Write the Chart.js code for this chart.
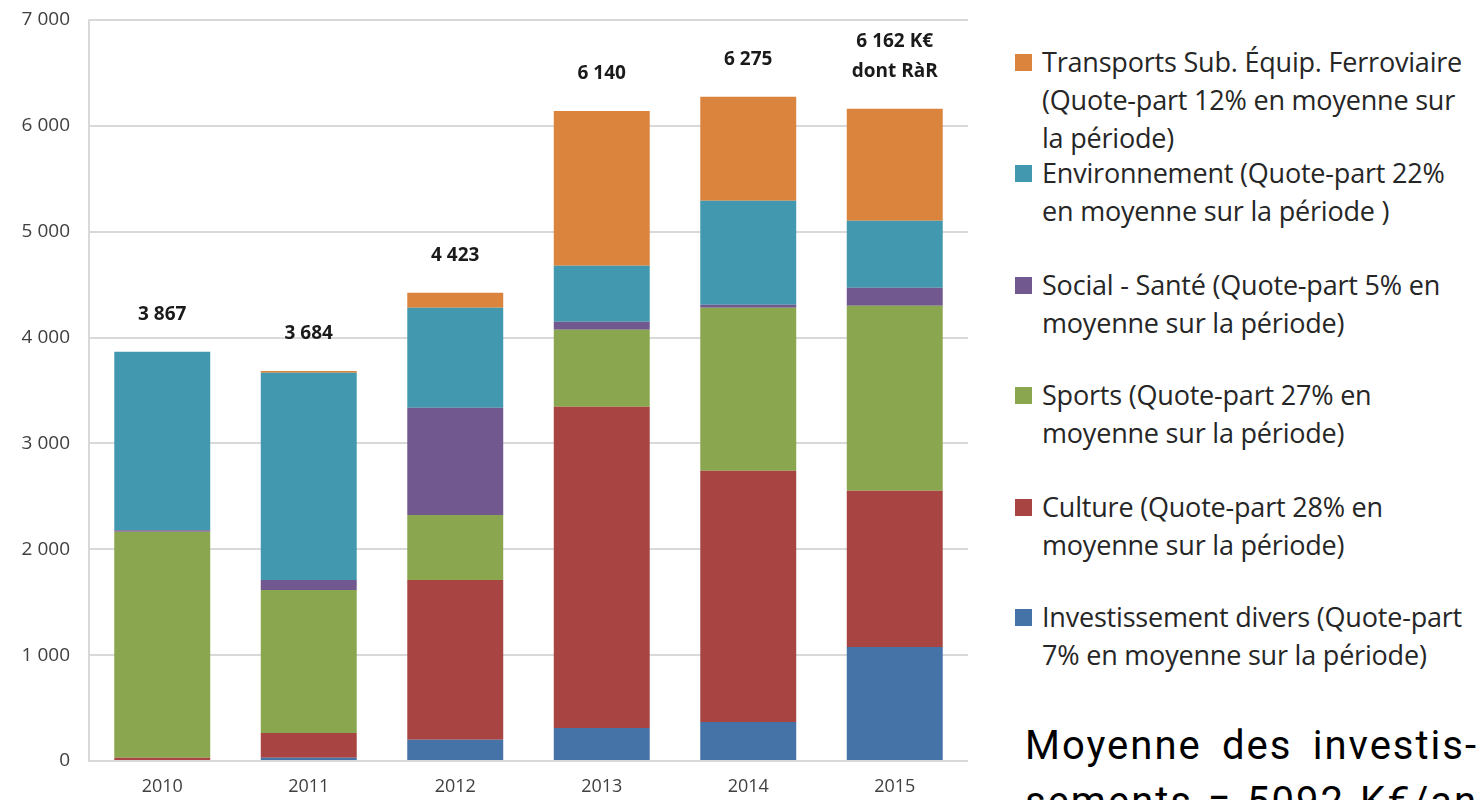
<!DOCTYPE html>
<html lang="fr">
<head>
<meta charset="utf-8">
<title>Investissements 2010-2015</title>
<script src="https://cdn.jsdelivr.net/npm/chart.js@4.4.0/dist/chart.umd.min.js"></script>
<style>
    html, body { margin: 0; padding: 0; background: #fff; overflow: hidden; }
    body { width: 1481px; height: 800px; position: relative; }
    #chartBox { position: absolute; left: 0; top: 0; width: 975px; height: 800px; }
    .legend-item {
        position: absolute; left: 1015px;
        font-family: "Open Sans", sans-serif; font-size: 27px;
        line-height: 38px; color: #262626; white-space: nowrap; letter-spacing: -0.2px;
    }
    .legend-item .sw {
        position: absolute; left: 0; top: 11px; width: 17px; height: 17px;
    }
    .legend-item .txt { margin-left: 27px; }
    #moyenne {
        position: absolute; left: 1025px; top: 718px; width: 453px;
        font-family: Roboto, sans-serif; font-size: 40px; line-height: 56px;
        letter-spacing: 2px; text-align: justify; text-align-last: justify; color: #000;
    }
</style>
</head>
<body>
<div id="chartBox"><canvas id="investChart"></canvas></div>
<div id="legend"></div>
<div id="moyenne">Moyenne des investis-<br>sements = 5092 K€/an</div>

<script>
// Data (K€), stacked from bottom to top
const years = ['2010', '2011', '2012', '2013', '2014', '2015'];
const investDivers = [0, 30, 200, 312, 369, 1077];
const culture = [30, 235, 1511, 3034, 2372, 1475];
const sports = [2135, 1351, 614, 728, 1541, 1748];
const socialSante = [15, 95, 1011, 75, 28, 171];
const environnement = [1687, 1956, 946, 530, 983, 633];
const transports = [0, 17, 141, 1461, 982, 1058];
const totalLabels = [['3 867'], ['3 684'], ['4 423'], ['6 140'], ['6 275'], ['6 162 K€', 'dont RàR']];

const series = [
    { label: 'Investissement divers', data: investDivers, color: '#4572A7' },
    { label: 'Culture', data: culture, color: '#A84543' },
    { label: 'Sports', data: sports, color: '#8AA64E' },
    { label: 'Social - Santé', data: socialSante, color: '#71588F' },
    { label: 'Environnement', data: environnement, color: '#4298AF' },
    { label: 'Transports Sub. Équip. Ferroviaire', data: transports, color: '#DB843D' }
];

// legend on the right (html, top to bottom)
const legendItems = [
    { color: '#DB843D', lines: ['Transports Sub. Équip. Ferroviaire', '(Quote-part 12% en moyenne sur', 'la période)'], top: 43 },
    { color: '#4298AF', lines: ['Environnement (Quote-part 22%', 'en moyenne sur la période )'], top: 154 },
    { color: '#71588F', lines: ['Social - Santé (Quote-part 5% en', 'moyenne sur la période)'], top: 266 },
    { color: '#8AA64E', lines: ['Sports (Quote-part 27% en', 'moyenne sur la période)'], top: 376 },
    { color: '#A84543', lines: ['Culture (Quote-part 28% en', 'moyenne sur la période)'], top: 488 },
    { color: '#4572A7', lines: ['Investissement divers (Quote-part', '7% en moyenne sur la période)'], top: 598 }
];

const legendDiv = document.getElementById('legend');
legendItems.forEach(item => {
    const el = document.createElement('div');
    el.className = 'legend-item';
    el.style.top = item.top + 'px';
    el.innerHTML = `<span class="sw" style="background:${item.color}"></span>` +
        `<div class="txt">${item.lines.join('<br>')}</div>`;
    legendDiv.appendChild(el);
});

function formatThousands(v) {
    return String(v).replace(/\B(?=(\d{3})+(?!\d))/g, ' ');
}

// totals above each bar
const totalsPlugin = {
    id: 'totals',
    afterDatasetsDraw(chart) {
        const ctx = chart.ctx;
        const xScale = chart.scales.x;
        const yScale = chart.scales.y;
        ctx.save();
        ctx.font = 'bold 19px "Open Sans", sans-serif';
        ctx.fillStyle = '#1a1a1a';
        ctx.textAlign = 'center';
        ctx.textBaseline = 'middle';
        years.forEach((y, i) => {
            let total = 0;
            series.forEach(s => { total += s.data[i]; });
            const x = xScale.getPixelForValue(i);
            const top = yScale.getPixelForValue(total);
            const lines = totalLabels[i];
            lines.forEach((line, j) => {
                const offset = 37 + (lines.length - 1 - j) * 30;
                ctx.fillText(line, x, top - offset);
            });
        });
        ctx.restore();
    }
};

const ctx = document.getElementById('investChart').getContext('2d');
const investChart = new Chart(ctx, {
    type: 'bar',
    data: {
        labels: years,
        datasets: series.map(s => ({
            label: s.label,
            data: s.data,
            backgroundColor: s.color,
            borderWidth: 0,
            categoryPercentage: 1,
            barPercentage: 0.655
        }))
    },
    options: {
        responsive: true,
        maintainAspectRatio: false,
        animation: false,
        layout: { padding: { top: 20, right: 7, bottom: 0, left: 0 } },
        plugins: {
            legend: { display: false },
            tooltip: { enabled: false }
        },
        scales: {
            x: {
                stacked: true,
                grid: { display: false, drawTicks: false },
                border: { display: false },
                ticks: {
                    color: '#404040',
                    font: { family: '"Open Sans", sans-serif', size: 18 },
                    padding: 15
                },
                afterFit: scale => {
                    scale.height = 39;
                    scale.paddingLeft = 0;
                    scale.paddingRight = 0;
                }
            },
            y: {
                stacked: true,
                min: 0,
                max: 7000,
                grid: { color: '#d9d9d9', lineWidth: 2, drawTicks: false },
                border: { display: true, color: '#d9d9d9', width: 2 },
                ticks: {
                    stepSize: 1000,
                    color: '#404040',
                    font: { family: '"Open Sans", sans-serif', size: 19 },
                    padding: 19,
                    callback: v => formatThousands(v)
                },
                afterFit: scale => {
                    scale.width = 89;
                    scale.paddingTop = 0;
                    scale.paddingBottom = 0;
                }
            }
        }
    },
    plugins: [totalsPlugin]
});
</script>
</body>
</html>
